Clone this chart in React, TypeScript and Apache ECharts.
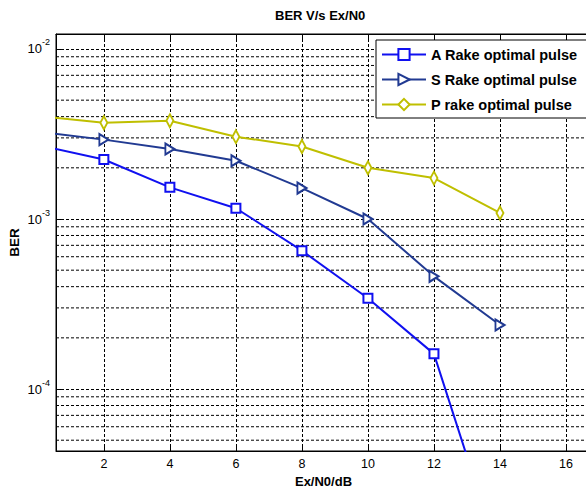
import React, { useEffect, useRef } from "react";
import * as echarts from "echarts";

const xValues = [0, 2, 4, 6, 8, 10, 12, 14];
const aRake = [2.72e-3, 2.24e-3, 1.535e-3, 1.157e-3, 6.51e-4, 3.42e-4, 1.61e-4, 1.0e-5];
const sRake = [3.26e-3, 2.93e-3, 2.58e-3, 2.2e-3, 1.52e-3, 1.0e-3, 4.6e-4, 2.38e-4];
const pRake = [4.03e-3, 3.685e-3, 3.78e-3, 3.05e-3, 2.67e-3, 2.0e-3, 1.74e-3, 1.085e-3];
const seriesNames = ["A Rake optimal pulse", "S Rake optimal pulse", "P rake optimal pulse"];
const seriesColors = ["#1010f0", "#213a92", "#bfbf00"];
const minorGridValues = [
  5e-5, 6e-5, 7e-5, 8e-5, 9e-5,
  2e-4, 3e-4, 4e-4, 5e-4, 6e-4, 7e-4, 8e-4, 9e-4,
  2e-3, 3e-3, 4e-3, 5e-3, 6e-3, 7e-3, 8e-3, 9e-3,
];
const titleText = "BER V/s Ex/N0";
const xName = "Ex/N0/dB";
const yName = "BER";

const FONT = "'Liberation Sans', Arial, Helvetica, sans-serif";

export default function App() {
  const ref = useRef<HTMLDivElement>(null);
  useEffect(() => {
    const chart = echarts.init(ref.current as HTMLDivElement, null, { renderer: "svg" });
    const pairs = (ys: number[]) => xValues.map((x, i) => [x, ys[i]]);
    const dash = [3, 2];
    const X_MIN = 0.55;
    const X_MAX = 17;
    const axisCommon = {
      axisLine: { show: true, lineStyle: { color: "#000", width: 1 } },
      axisTick: { show: true, inside: true, length: 5, lineStyle: { color: "#000", width: 1 } },
    };
    const minorGridSeries = minorGridValues.map((v) => ({
      type: "line",
      data: [
        [X_MIN, v],
        [X_MAX, v],
      ],
      symbol: "none",
      silent: true,
      clip: true,
      lineStyle: { color: "#000", type: dash, width: 1 },
      emphasis: { disabled: true },
      tooltip: { show: false },
      z: 1,
    }));
    chart.setOption({
      animation: false,
      backgroundColor: "#fff",
      title: {
        text: titleText,
        left: 275,
        top: 9,
        padding: 0,
        textStyle: { fontFamily: FONT, fontSize: 13, fontWeight: "bold", color: "#000" },
      },
      grid: {
        left: 56,
        top: 34,
        width: 543,
        bottom: 42,
        show: true,
        borderColor: "#000",
        borderWidth: 1,
        backgroundColor: "#fff",
        containLabel: false,
        outerBoundsMode: "none",
      },
      legend: {
        orient: "vertical",
        left: 376,
        top: 40,
        padding: [7, 30, 6, 5],
        itemWidth: 44,
        itemHeight: 14,
        itemGap: 10,
        borderColor: "#000",
        borderWidth: 1,
        backgroundColor: "#fff",
        selectedMode: false,
        textStyle: { fontFamily: FONT, fontSize: 14.5, fontWeight: "bold", color: "#000" },
        data: seriesNames,
      },
      xAxis: [
        {
          type: "value",
          min: X_MIN,
          max: X_MAX,
          splitNumber: 8,
          minInterval: 2,
          maxInterval: 2,
          name: xName,
          nameLocation: "middle",
          nameGap: 24,
          nameMoveOverlap: false,
          nameTextStyle: {
            fontFamily: FONT,
            fontSize: 13,
            fontWeight: "bold",
            color: "#000",
            padding: [0, 8, 0, 0],
          },
          ...axisCommon,
          axisLabel: {
            fontFamily: FONT,
            fontSize: 12.5,
            color: "#000",
            margin: 6,
            showMinLabel: false,
            showMaxLabel: false,
          },
          splitLine: { show: true, lineStyle: { color: "#000", type: dash, width: 1 } },
        },
        {
          type: "value",
          position: "top",
          min: X_MIN,
          max: X_MAX,
          splitNumber: 8,
          minInterval: 2,
          maxInterval: 2,
          ...axisCommon,
          axisLabel: { show: false },
          splitLine: { show: false },
        },
      ],
      yAxis: {
        type: "log",
        logBase: 10,
        min: 4.32e-5,
        max: 0.01225,
        name: yName,
        nameLocation: "middle",
        nameGap: 35,
        nameMoveOverlap: false,
        nameTextStyle: { fontFamily: FONT, fontSize: 13.5, fontWeight: "bold", color: "#000" },
        ...axisCommon,
        axisTick: { show: true, inside: true, length: 6, lineStyle: { color: "#000", width: 1 } },
        axisLabel: {
          margin: 6,
          showMinLabel: false,
          showMaxLabel: false,
          formatter: (v: number) => `{b|10}{s|${Math.round(Math.log10(v))}}`,
          rich: {
            b: { fontFamily: FONT, fontSize: 13, color: "#000" },
            s: { fontFamily: FONT, fontSize: 9, color: "#000", padding: [0, 0, 13, 0] },
          },
        },
        splitLine: { show: true, lineStyle: { color: "#000", type: dash, width: 1 } },
      },
      series: [
        ...minorGridSeries,
        {
          name: seriesNames[0],
          type: "line",
          data: pairs(aRake),
          symbol: "emptyRect",
          symbolSize: 9,
          showAllSymbol: true,
          clip: true,
          color: seriesColors[0],
          lineStyle: { width: 2, color: seriesColors[0] },
          itemStyle: { color: seriesColors[0], borderWidth: 2 },
          z: 3,
        },
        {
          name: seriesNames[1],
          type: "line",
          data: pairs(sRake),
          symbol: "emptyTriangle",
          symbolRotate: -90,
          symbolSize: [11, 9],
          showAllSymbol: true,
          clip: true,
          color: seriesColors[1],
          lineStyle: { width: 2, color: seriesColors[1] },
          itemStyle: { color: seriesColors[1], borderWidth: 2 },
          z: 3,
        },
        {
          name: seriesNames[2],
          type: "line",
          data: pairs(pRake),
          symbol: "emptyDiamond",
          symbolSize: [7, 13],
          showAllSymbol: true,
          clip: true,
          color: seriesColors[2],
          lineStyle: { width: 2, color: seriesColors[2] },
          itemStyle: { color: seriesColors[2], borderWidth: 2 },
          z: 3,
        },
      ],
    });
    return () => chart.dispose();
  }, []);
  return (
    <div
      ref={ref}
      style={{ position: "absolute", left: 0, top: 0, width: 586, height: 493 }}
    />
  );
}
